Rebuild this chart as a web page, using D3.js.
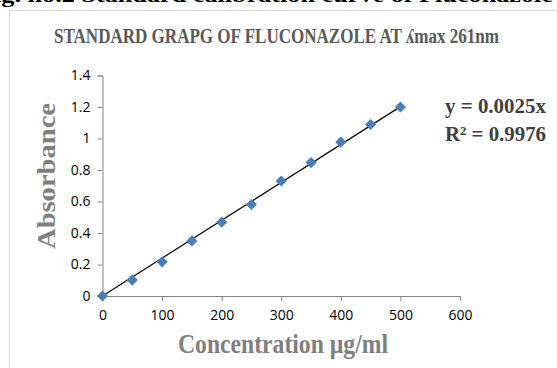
<!DOCTYPE html>
<html>
<head>
<meta charset="utf-8">
<script src="https://cdn.jsdelivr.net/npm/d3@7"></script>
<style>
  body { margin: 0; background: #fff; }
  svg { display: block; }
</style>
</head>
<body>
<div id="chart"></div>
<script>
// concentration (µg/ml) and absorbance
const concentrations = [0, 50, 100, 150, 200, 250, 300, 350, 400, 450, 500];
const absorbances = [0, 0.101, 0.217, 0.35, 0.469, 0.581, 0.73, 0.847, 0.977, 1.089, 1.2];
const xTicks = [0, 100, 200, 300, 400, 500, 600];
const yTicks = [0, 0.2, 0.4, 0.6, 0.8, 1, 1.2, 1.4];
const equationLines = ["y = 0.0025x", "R\u00B2 = 0.9976"];

const width = 557, height = 368;
const svg = d3.select("#chart").append("svg")
  .attr("width", width)
  .attr("height", height);

// caption of the figure, cut off at the top of the picture
svg.append("text")
  .attr("x", -22).attr("y", 1.5)
  .attr("textLength", 575).attr("lengthAdjust", "spacingAndGlyphs")
  .style("font", "bold 22px 'Liberation Serif', serif")
  .style("fill", "#000")
  .text("Fig. no.2 Standard calibration curve of Fluconazole");

// chart frame
svg.append("path")
  .attr("d", "M9.5," + height + "V10.5H" + width)
  .attr("fill", "none")
  .attr("stroke", "#d9d9d9");

const x = d3.scaleLinear().domain([0, 600]).range([102.5, 460]);
const y = d3.scaleLinear().domain([0, 1.4]).range([296, 75.5]);

const axisColor = "#868686";
const tickFont = "14px 'Open Sans', sans-serif";

// y axis
const yAxis = svg.append("g")
  .attr("transform", "translate(" + x(0) + ",0)")
  .call(d3.axisLeft(y).tickValues(yTicks).tickSize(5).tickPadding(7)
    .tickFormat(d => d3.format("~g")(d)));
yAxis.select(".domain").attr("stroke", axisColor);
yAxis.selectAll(".tick line").attr("stroke", axisColor);
yAxis.selectAll("text").style("font", tickFont).style("fill", "#000");

// x axis
const xAxis = svg.append("g")
  .attr("transform", "translate(0," + y(0) + ")")
  .call(d3.axisBottom(x).tickValues(xTicks).tickSize(5).tickPadding(9));
xAxis.select(".domain").attr("stroke", axisColor);
xAxis.selectAll(".tick line").attr("stroke", axisColor);
xAxis.selectAll("text").style("font", tickFont).style("fill", "#000");

// linear trendline through the origin (least squares)
const slope = d3.sum(concentrations, (c, i) => c * absorbances[i]) /
  d3.sum(concentrations, c => c * c);
const xMax = d3.max(concentrations);
svg.append("line")
  .attr("x1", x(0)).attr("y1", y(0))
  .attr("x2", x(xMax)).attr("y2", y(slope * xMax))
  .attr("stroke", "#000")
  .attr("stroke-width", 1.2);

// diamond markers
const diamond = d3.symbol().type(d3.symbolSquare).size(62);
svg.selectAll(".pt")
  .data(concentrations)
  .join("path")
    .attr("class", "pt")
    .attr("d", diamond)
    .attr("transform", (c, i) => "translate(" + x(c) + "," + y(absorbances[i]) + ") rotate(45)")
    .attr("fill", "#4a7ebb");

// title
svg.append("text")
  .attr("x", 54).attr("y", 43)
  .attr("textLength", 445).attr("lengthAdjust", "spacingAndGlyphs")
  .style("font", "bold 20px 'Liberation Serif', serif")
  .style("fill", "#595959")
  .text("STANDARD GRAPG OF FLUCONAZOLE AT \u028Emax 261nm");

// trendline equation
svg.selectAll(".eq")
  .data(equationLines)
  .join("text")
    .attr("class", "eq")
    .attr("x", 445)
    .attr("y", (d, i) => 113 + i * 28)
    .attr("textLength", 101).attr("lengthAdjust", "spacingAndGlyphs")
    .style("font", "bold 21px 'Liberation Serif', serif")
    .style("fill", "#404040")
    .text(d => d);

// axis titles
svg.append("text")
  .attr("transform", "translate(55,176) rotate(-90)")
  .attr("text-anchor", "middle")
  .attr("textLength", 146).attr("lengthAdjust", "spacingAndGlyphs")
  .style("font", "bold 25px 'Liberation Serif', serif")
  .style("fill", "#7f7f7f")
  .text("Absorbance");

svg.append("text")
  .attr("x", 178).attr("y", 353)
  .attr("textLength", 210).attr("lengthAdjust", "spacingAndGlyphs")
  .style("font", "bold 28px 'Liberation Serif', serif")
  .style("fill", "#7f7f7f")
  .text("Concentration \u00B5g/ml");
</script>
</body>
</html>
